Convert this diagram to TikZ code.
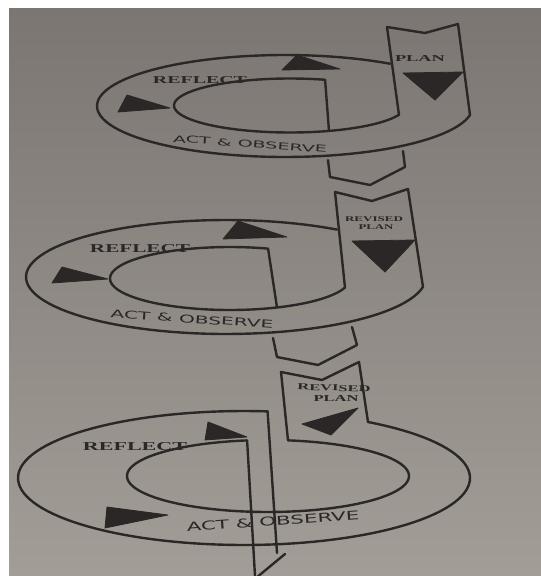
\documentclass[tikz,border=0pt]{standalone}
\usepackage{fontspec}
\usepackage{graphicx}
\setmainfont{Liberation Serif}
\newfontfamily\actfont{DejaVu Sans}
\definecolor{inkc}{HTML}{2B2726}
\definecolor{bgtop}{HTML}{7B7672}
\definecolor{bgmid}{HTML}{A9A49D}
\definecolor{bgbot}{HTML}{A29D96}
\newcommand\fitbox[3]{\resizebox{#1pt}{#2pt}{#3}}
\begin{document}
\begin{tikzpicture}[x=1pt,y=-1pt,line width=2.4pt,line join=round,line cap=round,
  band/.style={draw=inkc},
  tri/.style={fill=inkc,draw=inkc,line width=0.8pt},
  lbl/.style={inner sep=0pt,text=inkc,anchor=center}]
\useasboundingbox (0,0) rectangle (541,576);
\fill[white] (0,0) rectangle (541,576);
\shade[top color=bgtop,middle color=bgmid,bottom color=bgbot] (9,8) rectangle (541,576);

% ---------- stage 1 ----------
\draw[band] plot[domain=56:350,samples=90] ({285+188*cos(\x)},{106-51*sin(\x)});
\draw[band] (329,131) -- plot[domain=72.4:340,samples=90] ({290+116*cos(\x)},{105.5-27*sin(\x)});
\draw[band] (399,115) -- (387,27) -- (425,33) -- (458,24) -- (470,115);
\draw[band] (328,160) -- (330,177) -- (370,185) -- (405,167) -- (403,151);
\filldraw[tri] (282,70) -- (297,55) -- (340,69) -- cycle;
\filldraw[tri] (118,112) -- (127,95) -- (170,108) -- cycle;
\filldraw[tri] (403,73) -- (463,72) -- (435,100) -- cycle;
\node[lbl] (r1) at (200,80) {\fitbox{94}{7}{\bfseries REFLECT}};
\node[lbl] (p1) at (420,58) {\fitbox{50}{6}{\bfseries PLAN}};
\node[lbl,rotate=-4] (a1) at (250,144) {\fitbox{154}{7}{\actfont ACT \& OBSERVE}};

% ---------- stage 2 ----------
\draw[band] plot[domain=56.3:350,samples=90] ({226+200*cos(\x)},{277-57*sin(\x)});
\draw[band] (277,307.5) -- plot[domain=71.5:343.4,samples=90] ({230+120*cos(\x)},{278.5-31.5*sin(\x)});
\draw[band] (345,287.5) -- (335,192) -- (372,201) -- (408,189) -- (423,287);
\draw[band] (273,338) -- (277,357) -- (318,365) -- (357,345) -- (352,327);
\filldraw[tri] (223,239) -- (238,221) -- (287,237) -- cycle;
\filldraw[tri] (52,283) -- (62,267) -- (108,279) -- cycle;
\filldraw[tri] (352,241) -- (415,240) -- (385,272) -- cycle;
\node[lbl] (r2) at (140,249) {\fitbox{100}{8}{\bfseries REFLECT}};
\node[lbl] (v2) at (374,219) {\fitbox{58}{4.8}{\bfseries REVISED}};
\node[lbl] (p2) at (376,227) {\fitbox{35}{4.8}{\bfseries PLAN}};
\node[lbl,rotate=-4] (a2) at (192,319) {\fitbox{163}{8}{\actfont ACT \& OBSERVE}};

% ---------- stage 3 ----------
\draw[band] (277,553) -- (267.6,411.4) -- plot[domain=84:416.7,samples=120] ({244+226*cos(\x)},{478-67*sin(\x)});
\draw[band] (255,576) -- (247.1,440.4) -- plot[domain=98.6:441.8,samples=120] ({268+141*cos(\x)},{476-36*sin(\x)});
\draw[band] (288,440.4) -- (281,372) -- (322,380) -- (359,362) -- (368,422);
\draw[band] (285,554) -- (256,578);
\filldraw[tri] (205,440) -- (208,422) -- (247,437) -- cycle;
\filldraw[tri] (105,528) -- (107,507) -- (168,515) -- cycle;
\filldraw[tri] (302,424) -- (358,408) -- (331,435) -- cycle;
\node[lbl] (r3) at (135,447) {\fitbox{104}{8}{\bfseries REFLECT}};
\node[lbl,rotate=-2] (v3) at (334,388) {\fitbox{73}{6}{\bfseries REVISED}};
\node[lbl] (p3) at (336,398) {\fitbox{45}{6}{\bfseries PLAN}};
\node[lbl,rotate=4] (a3) at (273,521) {\fitbox{173}{9}{\actfont ACT \& OBSERVE}};
\end{tikzpicture}
\end{document}
